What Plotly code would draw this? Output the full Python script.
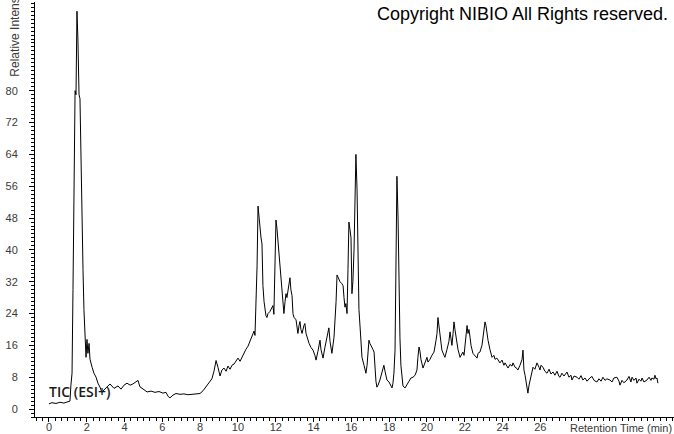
import plotly.graph_objects as go

# Retention time (min) and relative intensity
rt = [0.00, 0.16, 0.37, 0.58, 0.79, 1.01, 1.11, 1.16, 1.22, 1.27, 1.32, 1.38, 1.43, 1.48, 1.53, 1.59, 1.64,
      1.69, 1.75, 1.80, 1.85, 1.90, 1.96, 2.01, 2.06, 2.12, 2.17, 2.28, 2.38, 2.49, 2.59, 2.70, 2.80, 2.91,
      3.07, 3.23, 3.44, 3.65, 3.81, 3.97, 4.13, 4.29, 4.44, 4.60, 4.71, 4.81, 4.97, 5.19, 5.40, 5.61, 5.82,
      6.03, 6.19, 6.30, 6.40, 6.56, 6.72, 6.93, 7.14, 7.35, 7.57, 7.78, 7.99, 8.15, 8.31, 8.47, 8.62, 8.73,
      8.84, 8.94, 9.05, 9.15, 9.26, 9.37, 9.47, 9.58, 9.68, 9.79, 9.89, 10.00, 10.11, 10.21, 10.32, 10.42,
      10.53, 10.63, 10.74, 10.85, 10.90, 10.95, 11.01, 11.06, 11.11, 11.16, 11.22, 11.27, 11.32, 11.38,
      11.43, 11.48, 11.53, 11.59, 11.69, 11.80, 11.85, 11.90, 11.96, 12.01, 12.06, 12.12, 12.17, 12.22,
      12.28, 12.33, 12.38, 12.43, 12.49, 12.54, 12.59, 12.65, 12.70, 12.75, 12.80, 12.86, 12.91, 12.96,
      13.07, 13.12, 13.17, 13.23, 13.28, 13.33, 13.39, 13.49, 13.54, 13.60, 13.65, 13.76, 13.86, 13.97,
      14.07, 14.13, 14.23, 14.34, 14.39, 14.50, 14.60, 14.71, 14.81, 14.87, 14.97, 15.08, 15.13, 15.19,
      15.24, 15.29, 15.40, 15.50, 15.56, 15.61, 15.66, 15.71, 15.77, 15.82, 15.87, 15.93, 15.98, 16.03,
      16.08, 16.14, 16.19, 16.24, 16.30, 16.35, 16.40, 16.46, 16.51, 16.56, 16.67, 16.77, 16.83, 16.88,
      16.93, 16.98, 17.04, 17.09, 17.14, 17.20, 17.25, 17.30, 17.35, 17.41, 17.51, 17.62, 17.72, 17.78,
      17.88, 17.99, 18.10, 18.15, 18.20, 18.25, 18.31, 18.36, 18.41, 18.47, 18.52, 18.57, 18.62, 18.68,
      18.73, 18.84, 18.94, 19.05, 19.15, 19.26, 19.37, 19.47, 19.52, 19.58, 19.63, 19.68, 19.79, 19.89,
      20.00, 20.05, 20.16, 20.26, 20.37, 20.48, 20.53, 20.58, 20.63, 20.69, 20.79, 20.90, 20.95, 21.06,
      21.16, 21.22, 21.27, 21.32, 21.38, 21.43, 21.48, 21.53, 21.59, 21.64, 21.75, 21.85, 21.90, 21.96,
      22.01, 22.06, 22.12, 22.17, 22.22, 22.28, 22.33, 22.43, 22.54, 22.65, 22.70, 22.80, 22.91, 23.02,
      23.07, 23.12, 23.17, 23.23, 23.33, 23.44, 23.54, 23.60, 23.70, 23.81, 23.86, 23.97, 24.07, 24.13,
      24.23, 24.29, 24.39, 24.50, 24.55, 24.66, 24.76, 24.81, 24.92, 25.03, 25.08, 25.13, 25.19, 25.24,
      25.29, 25.34, 25.40, 25.45, 25.50, 25.61, 25.71, 25.82, 25.93, 25.98, 26.03, 26.14, 26.24, 26.35,
      26.46, 26.56, 26.67, 26.77, 26.88, 26.98, 27.04, 27.14, 27.25, 27.41, 27.51, 27.62, 27.67, 27.78,
      27.94, 28.04, 28.15, 28.25, 28.36, 28.47, 28.62, 28.73, 28.84, 28.99, 29.10, 29.21, 29.31, 29.42,
      29.52, 29.68, 29.79, 29.89, 30.05, 30.16, 30.21, 30.32, 30.42, 30.58, 30.69, 30.79, 30.85, 30.95,
      31.06, 31.11, 31.22, 31.32, 31.38, 31.48, 31.64, 31.75, 31.85, 31.90, 32.01, 32.06, 32.12, 32.17,
      32.22]

intensity = [1.3, 1.6, 1.4, 1.7, 1.5, 1.9, 2.0, 6.0, 9.0, 30.0, 60.0, 80.0, 79.0, 100.0, 93.0, 79.0, 78.0,
             62.0, 48.0, 35.0, 25.0, 19.0, 13.0, 17.5, 14.0, 16.5, 12.5, 10.5, 9.0, 8.0, 6.5, 5.5, 4.2, 4.8,
             5.5, 6.3, 5.2, 5.8, 5.0, 6.0, 6.5, 6.0, 6.3, 6.8, 7.2, 5.6, 5.0, 4.3, 4.5, 4.2, 4.4,
             4.0, 4.2, 3.2, 2.8, 3.5, 3.9, 3.7, 3.8, 3.6, 3.7, 3.8, 3.9, 4.6, 5.6, 6.6, 7.6, 9.5,
             12.2, 10.5, 8.3, 9.8, 10.3, 9.5, 10.8, 10.0, 11.0, 11.3, 12.2, 12.8, 12.0, 13.0, 14.3, 15.0,
             15.8, 17.0, 18.0, 19.6, 18.5, 26.0, 36.0, 51.0, 48.0, 45.0, 43.0, 41.5, 31.0, 27.0,
             24.5, 23.5, 23.0, 24.0, 24.5, 25.5, 26.0, 23.8, 35.0, 47.5, 45.5, 42.0, 38.0, 35.0,
             31.0, 28.0, 26.0, 24.0, 27.0, 29.0, 28.0, 30.0, 31.5, 33.0, 30.0, 28.5, 24.0, 23.0,
             22.5, 21.0, 19.0, 21.0, 22.0, 20.0, 19.0, 21.0, 21.5, 19.0, 18.0, 16.5, 15.5, 14.8,
             13.5, 12.3, 14.5, 17.3, 15.0, 12.8, 15.5, 18.0, 20.4, 17.0, 14.0, 18.0, 21.6, 27.0,
             33.7, 33.0, 32.0, 31.5, 31.0, 28.0, 25.6, 26.5, 24.0, 35.0, 47.0, 45.0, 43.0, 29.0,
             32.0, 40.0, 52.5, 64.0, 55.0, 33.0, 25.0, 20.6, 16.0, 13.0, 11.0, 9.0, 11.0, 14.5,
             17.3, 16.5, 16.0, 15.6, 15.0, 14.3, 10.0, 7.0, 5.5, 6.0, 7.3, 9.0, 11.0, 9.5,
             7.3, 6.8, 6.0, 5.3, 6.5, 9.0, 14.8, 50.0, 58.5, 48.0, 30.0, 18.0, 11.0, 7.3,
             5.8, 5.3, 6.3, 7.0, 7.8, 8.0, 8.5, 9.8, 13.0, 15.6, 14.5, 12.5, 10.3, 11.5,
             13.0, 11.8, 12.5, 13.5, 14.3, 17.3, 19.0, 23.0, 21.0, 19.0, 14.8, 13.5, 13.0, 15.0,
             17.0, 19.4, 17.5, 16.0, 19.0, 21.9, 20.0, 18.0, 16.6, 15.0, 13.0, 14.0, 14.3, 13.5,
             16.0, 19.5, 21.0, 19.0, 20.0, 18.0, 16.0, 14.0, 13.5, 12.8, 14.0, 14.3, 16.0, 19.5,
             21.9, 21.0, 19.0, 17.3, 15.0, 13.0, 13.5, 12.5, 12.8, 11.8, 11.6, 12.3, 11.0, 11.6,
             10.8, 10.3, 11.2, 10.8, 11.6, 10.5, 10.2, 9.8, 11.0, 12.5, 14.8, 9.8, 8.5, 7.3,
             5.5, 4.0, 6.0, 7.3, 8.5, 10.5, 10.0, 11.6, 10.5, 9.8, 11.0, 10.5, 9.5, 9.0,
             10.0, 8.8, 9.3, 8.5, 9.5, 8.2, 8.0, 9.0, 8.3, 9.3, 8.0, 8.5, 7.3, 8.3,
             8.0, 7.5, 8.4, 7.3, 7.8, 7.0, 7.8, 8.2, 7.2, 6.8, 7.6, 7.0, 8.0, 7.2,
             7.6, 7.3, 6.8, 7.8, 8.0, 7.0, 6.0, 7.2, 6.6, 7.3, 8.2, 6.8, 8.0, 7.2,
             7.8, 6.5, 7.5, 7.0, 7.8, 6.8, 7.3, 8.0, 7.2, 7.8, 7.5, 8.5, 7.6, 7.8,
             6.5]

x_ticks = [0, 2, 4, 6, 8, 10, 12, 14, 16, 18, 20, 22, 24, 26]
y_ticks = [0, 8, 16, 24, 32, 40, 48, 56, 64, 72, 80]

fig = go.Figure()
fig.add_trace(go.Scatter(x=rt, y=intensity, mode="lines",
                         line=dict(color="black", width=1), showlegend=False, hoverinfo="skip"))

tick_font = dict(family="Liberation Sans, Arial, sans-serif", size=11, color="#3a3a3a")

fig.update_layout(
    width=674, height=434,
    margin=dict(l=35, r=0, t=2, b=17),
    paper_bgcolor="white", plot_bgcolor="white",
    xaxis=dict(range=[-0.74, 33.07], tickvals=x_ticks, ticktext=[str(v) for v in x_ticks],
               automargin=False,
               showgrid=False, zeroline=False, showline=True, linecolor="black", linewidth=1,
               ticks="outside", ticklen=4, tickcolor="black", tickwidth=1, tickfont=tick_font,
               ticklabelstandoff=-4,
               minor=dict(ticks="outside", dtick=1/3, tick0=0, ticklen=3, tickcolor="black", showgrid=False)),
    yaxis=dict(range=[-2.0, 102.3], tickvals=y_ticks, ticktext=[str(v) for v in y_ticks],
               automargin=False,
               showgrid=False, zeroline=False, showline=True, linecolor="black", linewidth=1,
               ticks="outside", ticklen=5, tickcolor="black", tickwidth=1, tickfont=tick_font,
               ticklabelstandoff=9,
               minor=dict(ticks="outside", dtick=1, tick0=0, ticklen=3, tickcolor="black", showgrid=False)),
    annotations=[
        dict(text="Relative Intensity", xref="paper", yref="paper", x=-0.0313, y=0.931,
             textangle=-90, showarrow=False, xanchor="center", yanchor="middle",
             font=dict(family="Liberation Sans, Arial, sans-serif", size=12, color="#3a3a3a")),
        dict(text="Retention Time (min)", xref="paper", yref="paper", x=1.0, y=-0.0265,
             showarrow=False, xanchor="right", yanchor="middle",
             font=dict(family="Liberation Sans, Arial, sans-serif", size=11, color="#3a3a3a")),
        dict(text="Copyright NIBIO All Rights reserved.", xref="paper", yref="paper", x=0.9937, y=0.971,
             showarrow=False, xanchor="right", yanchor="middle",
             font=dict(family="Liberation Sans, Arial, sans-serif", size=18, color="black")),
        dict(text="TIC (ESI+)", xref="x", yref="y", x=-0.1, y=4.3,
             showarrow=False, xanchor="left", yanchor="middle",
             font=dict(family="Open Sans, sans-serif", size=14, color="#1a1a1a", weight=600)),
    ],
)

fig.write_html("out.html", config={"displayModeBar": False},
               post_script="document.body.style.margin='0';document.body.style.overflow='hidden';")
